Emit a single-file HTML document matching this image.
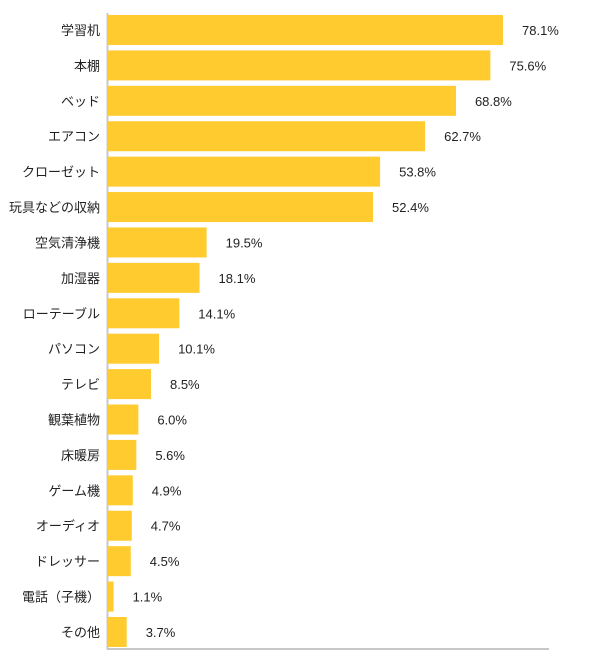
<!DOCTYPE html>
<html><head><meta charset="utf-8"><style>
body{margin:0;background:#fff;}
svg{display:block;font-family:"Liberation Sans","Noto Sans CJK JP",sans-serif;}
</style></head><body>
<svg id="chart" width="600" height="660">
<line x1="107.5" y1="13" x2="107.5" y2="650" stroke="#c8c8c8" stroke-width="2"/>
<line x1="107" y1="649" x2="549" y2="649" stroke="#c8c8c8" stroke-width="2"/>
</svg>
<script>
const categories=["学習机","本棚","ベッド","エアコン","クローゼット","玩具などの収納","空気清浄機","加湿器","ローテーブル","パソコン","テレビ","観葉植物","床暖房","ゲーム機","オーディオ","ドレッサー","電話（子機）","その他"];
const values=[78.1,75.6,68.8,62.7,53.8,52.4,19.5,18.1,14.1,10.1,8.5,6.0,5.6,4.9,4.7,4.5,1.1,3.7];
const labels=["78.1%","75.6%","68.8%","62.7%","53.8%","52.4%","19.5%","18.1%","14.1%","10.1%","8.5%","6.0%","5.6%","4.9%","4.7%","4.5%","1.1%","3.7%"];
const svg=document.getElementById('chart');
const NS='http://www.w3.org/2000/svg';
const x0=108, scale=(503-108)/78.1;
const xPos=v=>x0+v*scale;
const yPos=i=>15+i*35.41;
categories.forEach((c,i)=>{
  const y=yPos(i);
  const r=document.createElementNS(NS,'rect');
  r.setAttribute('x',x0);r.setAttribute('y',y);
  r.setAttribute('width',xPos(values[i])-x0);r.setAttribute('height',30);
  r.setAttribute('fill','#ffcb2f');
  
  
  svg.appendChild(r);
  const t=document.createElementNS(NS,'text');
  t.setAttribute('x',100);t.setAttribute('y',y+20);
  t.setAttribute('text-anchor','end');t.setAttribute('font-size','13');t.setAttribute('fill','#222');
  t.textContent=c;
  
  
  svg.appendChild(t);
  const v=document.createElementNS(NS,'text');
  v.setAttribute('x',xPos(values[i])+19);v.setAttribute('y',y+20);
  v.setAttribute('font-size','13');v.setAttribute('fill','#222');
  v.textContent=labels[i];
  
  
  svg.appendChild(v);
});
</script>
</body></html>
